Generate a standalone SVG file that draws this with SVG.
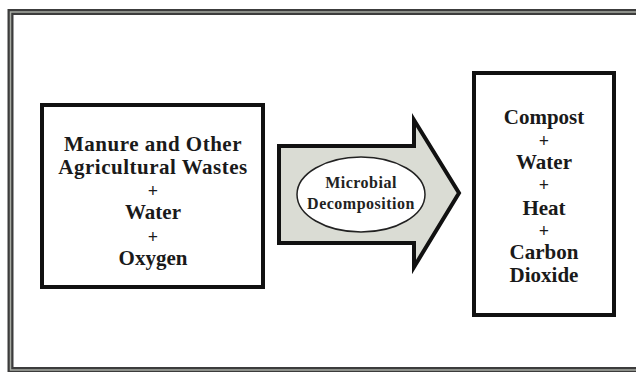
<svg xmlns="http://www.w3.org/2000/svg" width="636" height="372" viewBox="0 0 636 372">
<style>
.box{fill:#ffffff;stroke:#111111;stroke-width:4}
.t{font-family:"Liberation Serif","Times New Roman",serif;font-weight:bold;font-size:21px;fill:#1a1a1a;text-anchor:middle}
.w{letter-spacing:0.5px}
.p{font-size:18px}
.s{font-family:"Liberation Serif","Times New Roman",serif;font-weight:bold;font-size:16px;fill:#222222;text-anchor:middle;letter-spacing:0.5px}
</style>
<rect width="636" height="372" fill="#ffffff"/>
<g id="frame">
<rect x="10.5" y="12" width="640" height="358" fill="none" stroke="#3c3c3c" stroke-width="6"/>
<rect x="10.5" y="12" width="640" height="358" fill="none" stroke="#a8aca4" stroke-width="1.5"/>
</g>
<g id="inputs">
<rect class="box" x="42" y="105" width="221" height="182"/>
<text class="t"><tspan class="w" x="153" y="151">Manure and Other</tspan><tspan class="w" x="153" y="174">Agricultural Wastes</tspan><tspan class="p" x="153" y="197">+</tspan><tspan x="153" y="219">Water</tspan><tspan class="p" x="153" y="243">+</tspan><tspan x="153" y="265">Oxygen</tspan></text>
</g>
<g id="connectors">
<g id="process">
<path d="M279,146 L414,146 L414,120 L459,193 L414,267 L414,243 L279,243 Z" fill="#dadcd4" stroke="#111111" stroke-width="4" stroke-linejoin="miter"/>
<ellipse cx="361" cy="194.5" rx="64" ry="37.5" fill="#ffffff" stroke="#222222" stroke-width="1.5"/>
<text class="s"><tspan x="361" y="188">Microbial</tspan><tspan x="361" y="209">Decomposition</tspan></text>
</g>
</g>
<g id="outputs">
<rect class="box" x="474" y="73" width="140" height="242"/>
<text class="t"><tspan x="544" y="124">Compost</tspan><tspan class="p" x="544" y="147">+</tspan><tspan x="544" y="169">Water</tspan><tspan class="p" x="544" y="191">+</tspan><tspan x="544" y="215">Heat</tspan><tspan class="p" x="544" y="237">+</tspan><tspan x="544" y="259">Carbon</tspan><tspan x="544" y="282">Dioxide</tspan></text>
</g>
</svg>
